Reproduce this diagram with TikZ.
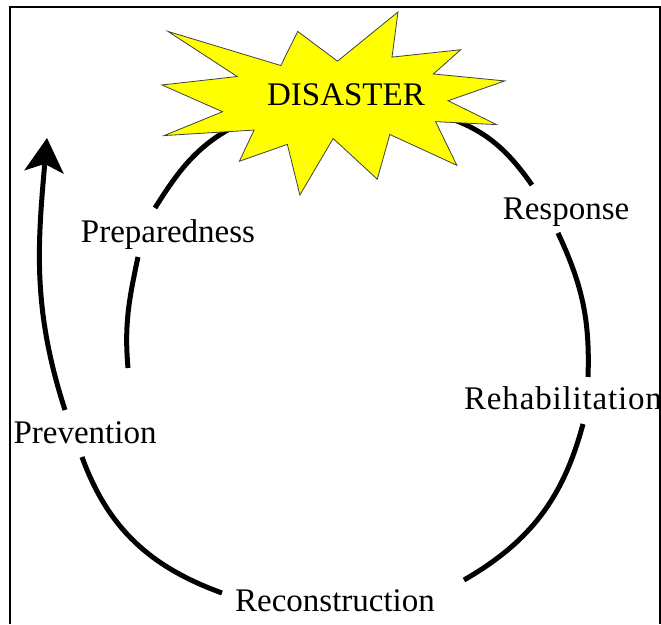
\documentclass[tikz,border=0pt]{standalone}
\usepackage{fontspec}
\setmainfont{Liberation Serif}
\usepackage{tikz}
\usetikzlibrary{arrows.meta, calc}
\definecolor{burstyellow}{HTML}{FFFF00}
\definecolor{burstedge}{HTML}{404040}

\begin{document}
\begin{tikzpicture}[x=1pt, y=1pt]
  \tikzstyle{lbl}=[inner sep=0pt, anchor=base,
    font=\fontsize{33}{40}\selectfont]
  \tikzstyle{cyc}=[line width=5pt]
  \tikzstyle{burst}=[fill=burstyellow, draw=burstedge, line width=0.8pt]

  \useasboundingbox (0,0) rectangle (661,624);

  % frame, open at the bottom
  \draw[line width=2pt] (10,0) -- (10,617) -- (660,617) -- (660,0);

  \node[lbl] (resp)  at (566,404) {Response};
  \node[lbl] (rehab) at (563,214)
    {\addfontfeature{LetterSpace=2.5}Rehabilitation};
  \node[lbl] (recon) at (335,13)  {Reconstruction};
  \node[lbl] (prev)  at (85,180)  {Prevention};
  \node[lbl] (prep)  at (168,381) {Preparedness};

  \coordinate (inL) at (245,503);
  \coordinate (inR) at (440,509);
  \coordinate (tip) at (47,486);

  % the cycle
  \draw[cyc] ($(prep.base)+(-13,35)$) to[out=58,in=205] (inL);
  \draw[cyc] ($(prep.base)+(-30,-14)$) to[out=258,in=95]
    ($(prev.base)+(43,76)$);
  \draw[cyc] ($(prev.base)+(-3,-13)$) to[out=-70,in=160]
    ($(recon.base)+(-113,18)$);
  \draw[cyc] ($(recon.base)+(129,31)$) to[out=30,in=-105]
    ($(rehab.base)+(20,-14)$);
  \draw[cyc] ($(rehab.base)+(25,33)$) to[out=88,in=-65]
    ($(resp.base)+(-8,-13)$);
  \draw[cyc] ($(resp.base)+(-34,35)$) to[out=125,in=-17] (inR);

  \draw[cyc, -{Stealth[length=34pt, width=39pt, inset=8pt]}]
    ($(prev.base)+(-20,34)$) to[out=108,in=-95] (tip);

  % explosion
  \begin{scope}[shift={(162,612)}, x=1.625pt, y=-0.8472pt]
    \draw[burst] (108,58) -- (145.22,0) -- (141.55,53.25)
      -- (183.80,44.57) -- (167.02,73.15) -- (210.97,81.37)
      -- (176.07,104.75) -- (205.83,132.90) -- (168.37,129.42)
      -- (181.45,180.95) -- (140.20,144.57) -- (132.47,197.37)
      -- (105.32,149.35) -- (84.85,216) -- (77.15,156.27)
      -- (47.62,176.17) -- (56.67,139.37) -- (1.35,145.87)
      -- (37.22,117.75) -- (0,86.15) -- (46.27,76.17)
      -- (3.70,22.95) -- (73.12,63.20) -- (83.52,22.95) -- cycle;
  \end{scope}
  \node[lbl] (dis) at (346,518) {DISASTER};
\end{tikzpicture}
\end{document}
